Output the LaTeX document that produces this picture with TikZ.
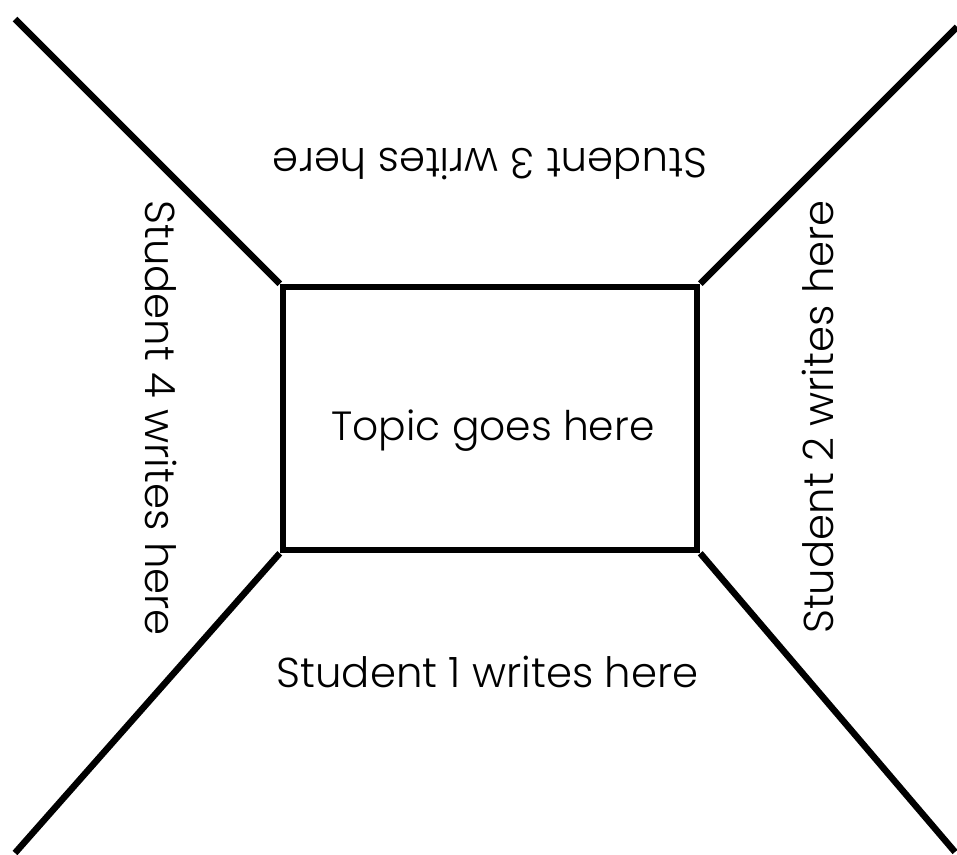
\documentclass[tikz,border=0pt]{standalone}
\usepackage{fontspec}
\setmainfont{Poppins Light}
\usetikzlibrary{positioning}

\begin{document}
\begin{tikzpicture}[x=1pt, y=-1pt,
    topic/.style={rectangle, draw=black, line width=6.5pt, minimum width=414pt, minimum height=263pt, inner sep=0pt},
    writes/.style={inner sep=0pt, anchor=base, font=\fontsize{41.8}{48}\selectfont},
    spoke/.style={line width=6.5pt, color=black}
]
\useasboundingbox (0,0) rectangle (957,854);
\node[topic] (topic) at (490,418.5) {};
\node[writes, font=\fontsize{40.8}{48}\selectfont] (title) at (493,440) {Topic goes here};
\coordinate (tl) at (15,19);
\coordinate (tr) at (957,27);
\coordinate (bl) at (15,853);
\coordinate (br) at (955,852);
\draw[spoke] (topic.north west) -- (tl);
\draw[spoke] (topic.north east) -- (tr);
\draw[spoke] (topic.south west) -- (bl);
\draw[spoke] (topic.south east) -- (br);
\node[writes] (s1) at (487.5,687) {Student 1 writes here};
\node[writes, rotate=90] (s2) at (833,417) {Student 2 writes here};
\node[writes, rotate=180] (s3) at (490,148) {Student 3 writes here};
\node[writes, rotate=-90] (s4) at (145,418) {Student 4 writes here};
\end{tikzpicture}
\end{document}
